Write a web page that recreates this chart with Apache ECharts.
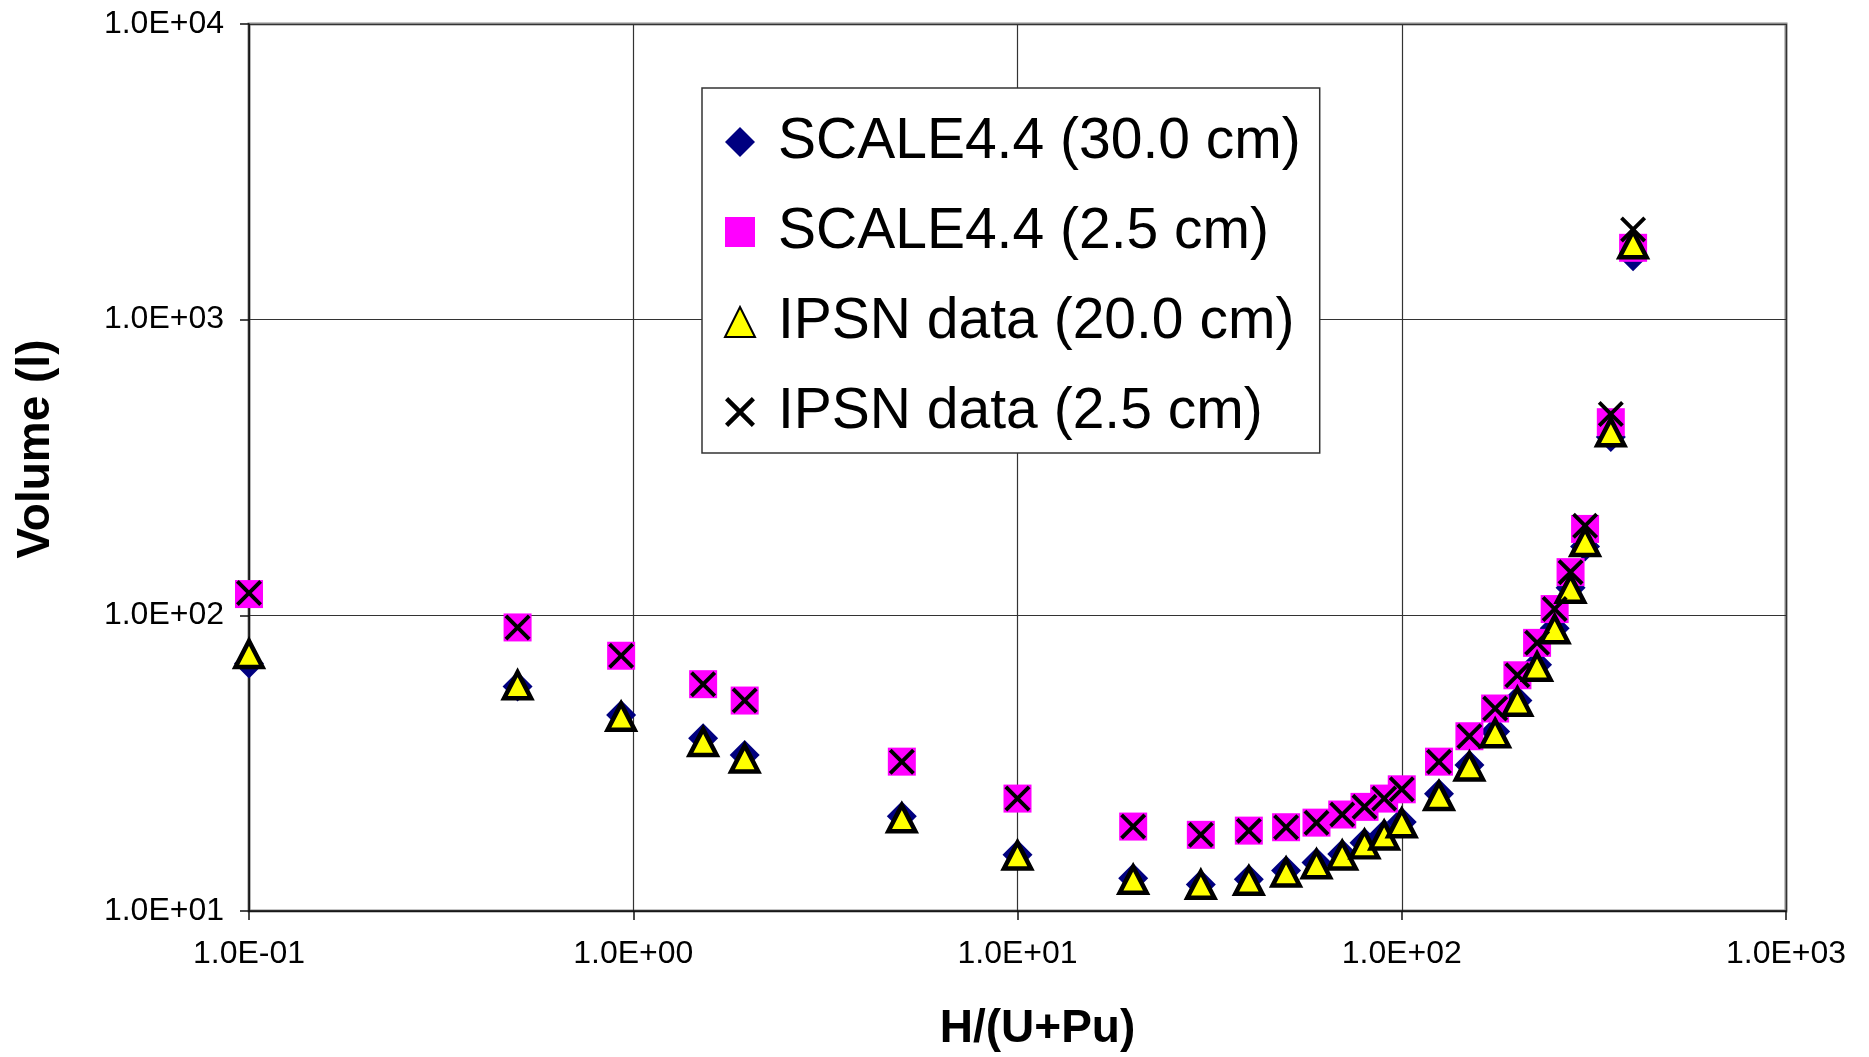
<!DOCTYPE html>
<html>
<head>
<meta charset="utf-8">
<style>
  html, body { margin: 0; padding: 0; background: #fff; }
  #chart { width: 1869px; height: 1057px; }
</style>
<script src="https://cdn.jsdelivr.net/npm/echarts@6/dist/echarts.min.js"></script>
</head>
<body>
<div id="chart"></div>
<script>
// ---- Data ----
const hOverUPu = [0.1, 0.5, 0.93, 1.52, 1.95, 5, 10, 20, 30, 40, 50, 60, 70, 80, 90, 100,
                  125, 150, 175, 200, 225, 250, 275, 300, 350, 400];

const scale30 = [68.7, 57.4, 46, 38.4, 33.7, 20.9, 15.5, 12.9, 12.3, 12.8, 13.7, 14.6, 15.6, 17.0, 18.2, 20.0,
                 24.9, 31.2, 40.5, 51.5, 68, 90.5, 124, 171, 401, 1640];

const scale25 = [118, 91, 73, 58.5, 51.5, 32, 24, 19.3, 18.1, 18.7, 19.2, 19.9, 21.2, 22.5, 24.0, 25.8,
                 32, 39, 48.4, 62.7, 80.7, 105, 140, 196, 450, 1750];

const ipsn20 = [74, 58, 45.4, 37.3, 32.8, 20.6, 15.4, 12.76, 12.27, 12.65, 13.5, 14.4, 15.4, 16.8, 18.0, 19.8,
                24.5, 30.8, 39.9, 51, 67, 89.7, 123, 177, 416, 1800];

const ipsn25 = [119, 91, 73, 58.5, 51.5, 32, 24, 19.3, 18.1, 18.7, 19.2, 19.9, 21.2, 22.5, 24.0, 25.8,
                32, 39, 48.4, 62.7, 80.7, 105, 140, 201, 480, 2018];

const seriesNames = ['SCALE4.4 (30.0 cm)', 'SCALE4.4 (2.5 cm)', 'IPSN data (20.0 cm)', 'IPSN data (2.5 cm)'];

const xTickLabels = ['1.0E-01', '1.0E+00', '1.0E+01', '1.0E+02', '1.0E+03']; // exponents -1..3
const yTickLabels = ['1.0E+01', '1.0E+02', '1.0E+03', '1.0E+04'];            // exponents 1..4

const xTitle = 'H/(U+Pu)';
const yTitle = 'Volume (l)';

// ---- Build chart ----
const pairs = ys => hOverUPu.map((x, i) => [x, ys[i]]);
const crossPath = 'path://M0,10.6 L10.6,0 L50,39.4 L89.4,0 L100,10.6 L60.6,50 L100,89.4 L89.4,100 L50,60.6 L10.6,100 L0,89.4 L39.4,50 Z';

const FONT = '"Liberation Sans", Arial, Helvetica, sans-serif';

const chart = echarts.init(document.getElementById('chart'), null, { renderer: 'canvas' });

chart.setOption({
  animation: false,
  backgroundColor: '#ffffff',
  grid: {
    left: 249, top: 24, width: 1537, height: 889,
    show: true, borderColor: '#8a8a8a', borderWidth: 3, backgroundColor: '#ffffff'
  },
  legend: {
    orient: 'vertical',
    left: 702, top: 88,
    padding: [24, 19, 11, 22],
    itemGap: 30,
    itemWidth: 30, itemHeight: 30,
    backgroundColor: '#ffffff',
    borderColor: '#333333', borderWidth: 1.5, borderRadius: 0,
    selectedMode: false,
    textStyle: { fontFamily: FONT, fontSize: 57, color: '#000', lineHeight: 60, padding: [0, 0, 0, 18] },
    data: [
      { name: seriesNames[0], icon: 'diamond' },
      { name: seriesNames[1], icon: 'rect' },
      { name: seriesNames[2], icon: 'triangle' },
      { name: seriesNames[3], icon: crossPath }
    ]
  },
  xAxis: {
    type: 'log', logBase: 10, min: 0.1, max: 1000,
    name: xTitle, nameLocation: 'middle', nameGap: 95,
    nameTextStyle: { fontFamily: FONT, fontSize: 46, fontWeight: 'bold', color: '#000', padding: [0, 0, 0, 40] },
    axisLine: { show: true, onZero: false, lineStyle: { color: '#111', width: 1.5 } },
    axisTick: { show: true, inside: false, length: 9, lineStyle: { color: '#111', width: 1.5 } },
    minorTick: { show: false },
    axisLabel: {
      fontFamily: FONT, fontSize: 32, color: '#000', margin: 27,
      formatter: v => { const e = Math.round(Math.log10(v)); return xTickLabels[e + 1] || ''; }
    },
    splitLine: { show: true, lineStyle: { color: '#333', width: 1.2 } }
  },
  yAxis: {
    type: 'log', logBase: 10, min: 10, max: 10000,
    name: yTitle, nameLocation: 'middle', nameGap: 190, nameRotate: 90,
    nameTextStyle: { fontFamily: FONT, fontSize: 46, fontWeight: 'bold', color: '#000', padding: [0, 0, 0, 37] },
    axisLine: { show: true, onZero: false, lineStyle: { color: '#111', width: 1.5 } },
    axisTick: { show: true, inside: false, length: 9, lineStyle: { color: '#111', width: 1.5 } },
    axisLabel: {
      fontFamily: FONT, fontSize: 32, color: '#000', margin: 25,
      formatter: v => { const e = Math.round(Math.log10(v)); return yTickLabels[e - 1] || ''; }
    },
    splitLine: { show: true, lineStyle: { color: '#333', width: 1.2 } }
  },
  series: [
    {
      name: seriesNames[0], type: 'scatter', data: pairs(scale30),
      symbol: 'diamond', symbolSize: 30,
      itemStyle: { color: '#000080', opacity: 1 }
    },
    {
      name: seriesNames[1], type: 'scatter', data: pairs(scale25),
      symbol: 'rect', symbolSize: 28,
      itemStyle: { color: '#ff00ff', opacity: 1 }
    },
    {
      name: seriesNames[2], type: 'scatter', data: pairs(ipsn20),
      symbol: 'triangle', symbolSize: [27, 26],
      itemStyle: { color: '#ffff00', borderColor: '#000', borderWidth: 4.5, opacity: 1 }
    },
    {
      name: seriesNames[3], type: 'scatter', data: pairs(ipsn25),
      symbol: crossPath, symbolSize: 26,
      itemStyle: { color: '#000', opacity: 1 }
    }
  ]
});
</script>
</body>
</html>
